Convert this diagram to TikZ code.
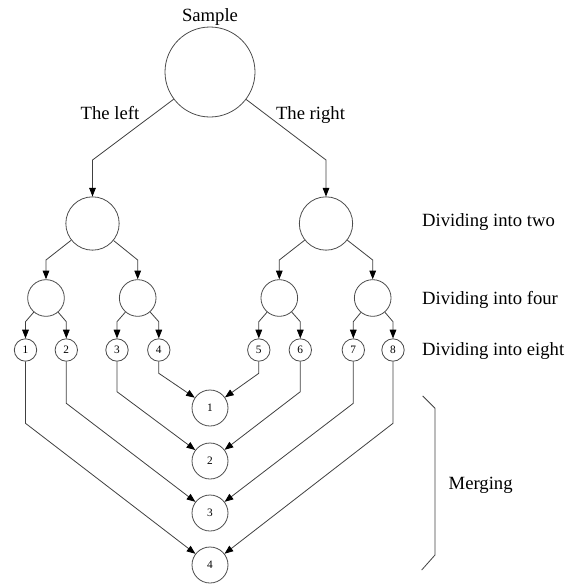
\documentclass[tikz,border=0pt]{standalone}
\usepackage{fontspec}
\setmainfont{Liberation Serif}
\usetikzlibrary{arrows.meta}
\begin{document}
\begin{tikzpicture}[x=0.75pt,y=-0.75pt,
  line width=0.6pt,
  ln/.style={draw=black!75},
  arr/.style={ln,-{Triangle[length=6.5pt,width=5pt,color=black]}},
  blob/.style={circle,draw=black!70,inner sep=0pt,minimum size=#1},
  lbl/.style={font=\fontsize{14}{16}\selectfont},
  side/.style={lbl,anchor=base west,inner sep=0pt},
  num/.style={font=\fontsize{8.5}{9}\selectfont}]
\useasboundingbox (0,0) rectangle (573,586);

% whole sample and its two halves
\node[blob=67.5pt] (s) at (210,72) {};
\node[blob=40pt] (L) at (92.5,223.5) {};
\node[blob=40pt] (R) at (326,223.5) {};

% quarters
\node[blob=27.5pt] (LL) at (46,298) {};
\node[blob=27.5pt] (LR) at (137.7,298) {};
\node[blob=27.5pt] (RL) at (279.3,298) {};
\node[blob=27.5pt] (RR) at (372.7,298) {};

% eighths
\foreach \i/\x in {1/25.5,2/66.3,3/117,4/158.8,5/258.8,6/300.3,7/353.3,8/393}
  \node[blob=16.8pt,num] (e\i) at (\x,350) {\i};

% merged results
\foreach \i/\y in {1/408,2/461,3/513,4/565}
  \node[blob=27pt,num] (m\i) at (210,\y) {\i};

% labels
\node[lbl,anchor=base] (tS) at (210,21.7) {Sample};
\node[lbl,anchor=base] (tL) at (110,119.3) {The left};
\node[lbl,anchor=base] (tR) at (310.5,119.3) {The right};
\node[side] (d2) at (421.7,226.7) {Dividing into two};
\node[side] (d4) at (421.7,304) {Dividing into four};
\node[side] (d8) at (421.7,355) {Dividing into eight};
\node[side] (mg) at (448.3,489) {Merging};

% splitting
\draw[arr] (s) -- (L |- 0,160) -- (L);
\draw[arr] (s) -- (R |- 0,160) -- (R);
\draw[arr] (L) -- (LL |- 0,260) -- (LL);
\draw[arr] (L) -- (LR |- 0,260) -- (LR);
\draw[arr] (R) -- (RL |- 0,260) -- (RL);
\draw[arr] (R) -- (RR |- 0,260) -- (RR);
\draw[arr] (LL) -- (e1 |- 0,321.7) -- (e1);
\draw[arr] (LL) -- (e2 |- 0,321.7) -- (e2);
\draw[arr] (LR) -- (e3 |- 0,321.7) -- (e3);
\draw[arr] (LR) -- (e4 |- 0,321.7) -- (e4);
\draw[arr] (RL) -- (e5 |- 0,321.7) -- (e5);
\draw[arr] (RL) -- (e6 |- 0,321.7) -- (e6);
\draw[arr] (RR) -- (e7 |- 0,321.7) -- (e7);
\draw[arr] (RR) -- (e8 |- 0,321.7) -- (e8);

% merging
\draw[arr] (e4) -- (e4 |- 0,373.3) -- (m1);
\draw[arr] (e5) -- (e5 |- 0,373.3) -- (m1);
\draw[arr] (e3) -- (e3 |- 0,391.7) -- (m2);
\draw[arr] (e6) -- (e6 |- 0,391.7) -- (m2);
\draw[arr] (e2) -- (e2 |- 0,403.3) -- (m3);
\draw[arr] (e7) -- (e7 |- 0,403.3) -- (m3);
\draw[arr] (e1) -- (e1 |- 0,423.3) -- (m4);
\draw[arr] (e8) -- (e8 |- 0,423.3) -- (m4);

% bracket for the merging stage
\draw[ln] (422.7,396) -- (435,408.3) -- (435,555) -- (421.7,570);
\end{tikzpicture}
\end{document}
